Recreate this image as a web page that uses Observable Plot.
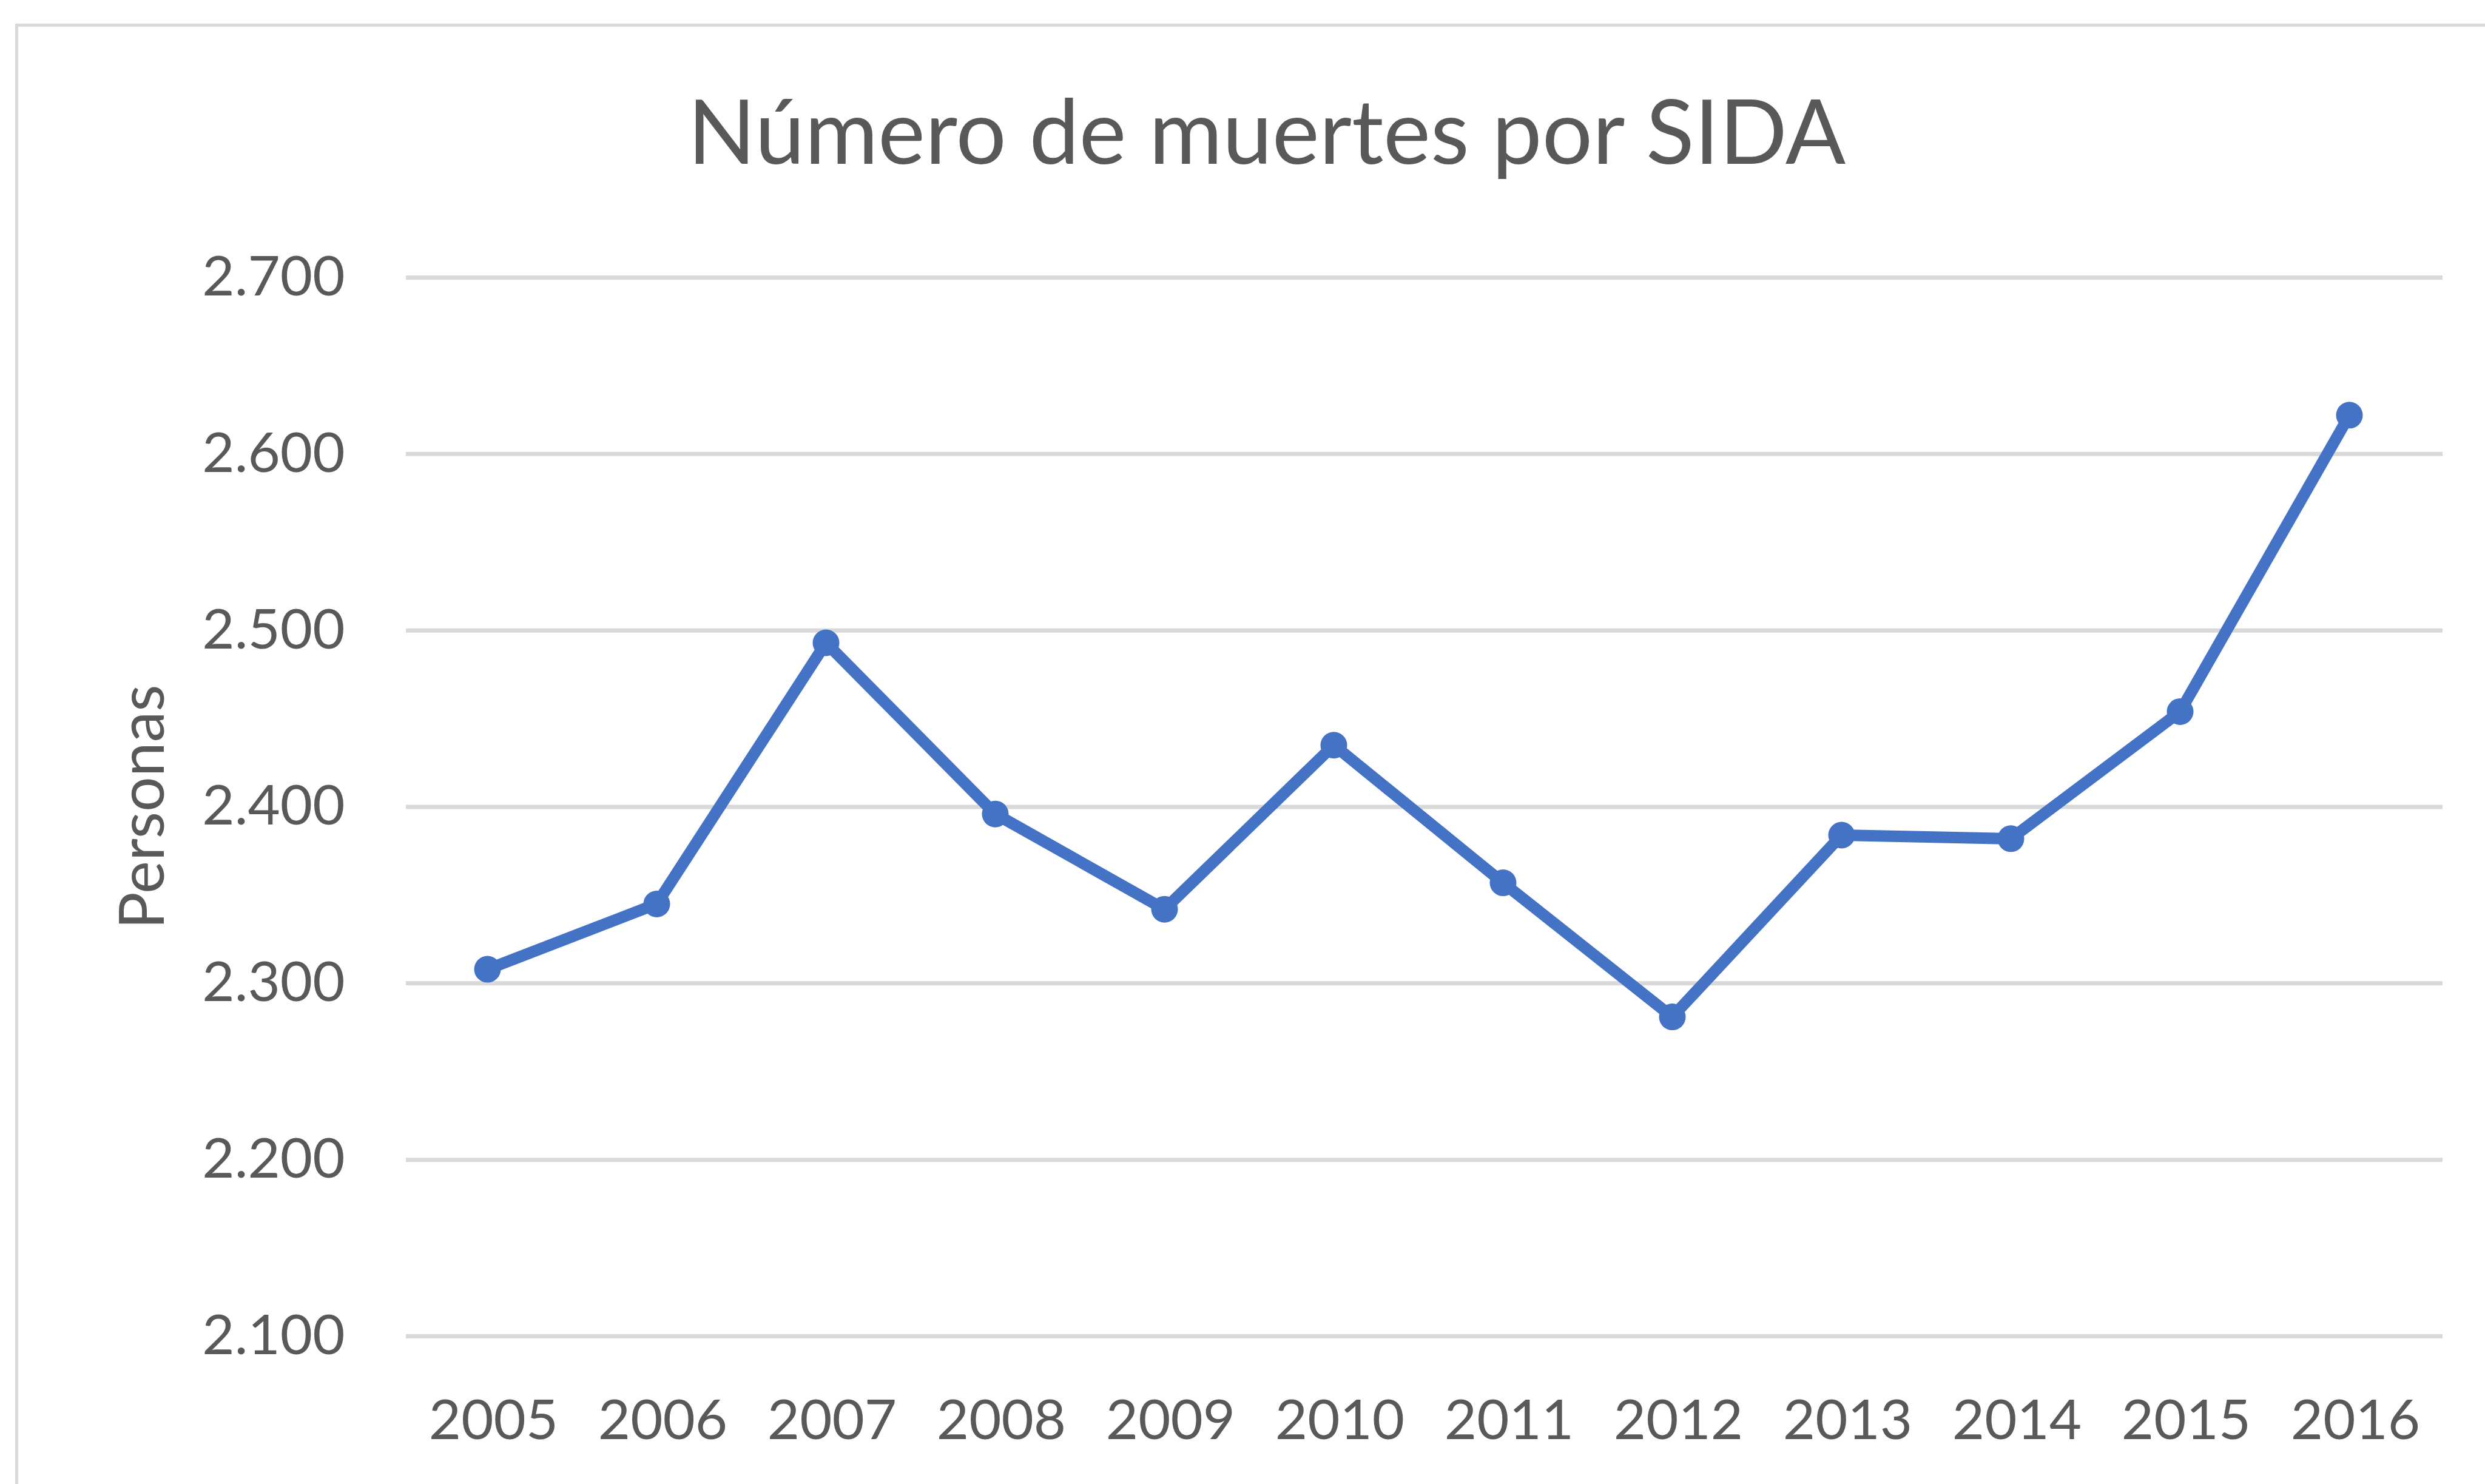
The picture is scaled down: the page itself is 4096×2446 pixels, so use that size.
<!DOCTYPE html>
<html><head><meta charset="utf-8">
<script src="https://cdn.jsdelivr.net/npm/d3@7"></script>
<script src="https://cdn.jsdelivr.net/npm/@observablehq/plot@0.6"></script>
<style>
html,body{margin:0;padding:0;background:#fff;overflow:hidden;}
#wrap{position:relative;width:4096px;height:2446px;overflow:hidden;background:#fff;}
#frame{position:absolute;left:25px;top:39px;width:5000px;height:5000px;border-left:5px solid #d9d9d9;border-top:5px solid #d9d9d9;}
#title{position:absolute;left:0;width:4176px;top:125px;text-align:center;font-family:Lato,sans-serif;font-size:147px;color:#595959;white-space:nowrap;}
#chart{position:absolute;left:0;top:300px;}
</style></head><body>
<div id="wrap"><div id="frame"></div><div id="title"></div><div id="chart"></div></div>
<script>
const titleText = "Número de muertes por SIDA";
const yLabel = "Personas";
const years = ["2005","2006","2007","2008","2009","2010","2011","2012","2013","2014","2015","2016"];
const deaths = [2308, 2345, 2493, 2396, 2342, 2435, 2357, 2281, 2384, 2382, 2454, 2622];
const yTicks = [2100, 2200, 2300, 2400, 2500, 2600, 2700];

document.getElementById("title").textContent = titleText;

const fmt = d3.formatLocale({decimal: ",", thousands: ".", grouping: [3], currency: ["", ""]}).format(",d");
const data = years.map((y, i) => ({year: y, value: deaths[i]}));

const chart = Plot.plot({
  width: 4096,
  height: 2146,
  marginTop: 157,
  marginBottom: 244,
  marginLeft: 669,
  marginRight: 70,
  style: {fontFamily: "Lato, sans-serif", fontSize: "92px", color: "#595959", background: "transparent", overflow: "visible"},
  x: {type: "point", domain: years, padding: 0.5},
  y: {domain: [2100, 2700]},
  marks: [
    Plot.gridY(yTicks, {stroke: "#d9d9d9", strokeOpacity: 1, strokeWidth: 7}),
    Plot.axisY(yTicks, {tickSize: 0, tickPadding: 101, tickFormat: fmt, label: null, fontSize: 92}),
    Plot.axisX({tickSize: 0, tickPadding: 104, label: null, fontSize: 92}),
    Plot.text([yLabel], {frameAnchor: "left", rotate: -90, dx: -432, fontSize: 102, fill: "#595959", textAnchor: "middle", lineAnchor: "middle"}),
    Plot.line(data, {x: "year", y: "value", dx: -10, stroke: "#4472C4", strokeWidth: 19, strokeLinejoin: "round", strokeLinecap: "round"}),
    Plot.dot(data, {x: "year", y: "value", dx: -10, r: 22, fill: "#4472C4"})
  ]
});
document.getElementById("chart").appendChild(chart);
</script>
</body></html>
